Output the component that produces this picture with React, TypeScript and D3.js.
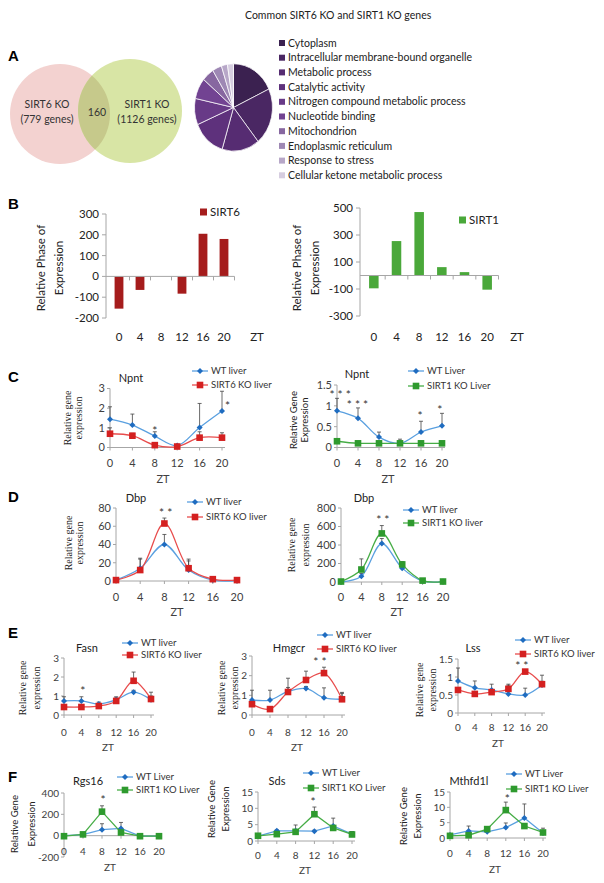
import React from 'react';
import * as d3 from 'd3';

const SANS = 'Lato, "Open Sans", "Liberation Sans", sans-serif';
const SERIF = '"Liberation Serif", "DejaVu Serif", serif';
const TXT = '#404040';
const AXIS = '#a6a6a6';

// ---------- Panel A data ----------
const vennNames = ['SIRT6 KO', 'SIRT1 KO'];
const vennGenes = ['(779 genes)', '(1126 genes)'];
const vennShared = 160;
const goTitle = 'Common SIRT6 KO and SIRT1 KO genes';
const goTerms = [
  'Cytoplasm',
  'Intracellular membrane-bound organelle',
  'Metabolic process',
  'Catalytic activity',
  'Nitrogen compound metabolic process',
  'Nucleotide binding',
  'Mitochondrion',
  'Endoplasmic reticulum',
  'Response to stress',
  'Cellular ketone metabolic process',
];
const goShare = [65, 76, 56, 50, 35, 28, 18, 14, 9, 9];
const goColors = ['#3b2150', '#4a2763', '#562c72', '#5e317c', '#683a87', '#724392', '#8767a0', '#9e88b4', '#b7a7c8', '#d6cde0'];

// ---------- Panel B data ----------
const ztLabels = ['0', '4', '8', '12', '16', '20'];
const sirt6Phase = [-155, -65, 0, -83, 205, 180];
const sirt1Phase = [-95, 255, 470, 62, 25, -105];
const sirt6PhaseTicks = [300, 200, 100, 0, -100, -200];
const sirt1PhaseTicks = [500, 300, 100, -100, -300];

// ---------- Line chart data ----------
const ZT = [0, 4, 8, 12, 16, 20];

const npntWT6 = [1.44, 1.14, 0.58, 0.1, 1.02, 1.86];
const npntWT6Err = [0.63, 0.56, 0.22, 0.05, 1.22, 1.0];
const npntKO6 = [0.7, 0.6, 0.12, 0.05, 0.5, 0.5];
const npntKO6Err = [0.3, 0.12, 0.05, 0.05, 0.3, 0.25];

const npntWT1 = [0.88, 0.7, 0.25, 0.1, 0.37, 0.52];
const npntWT1Err = [0.3, 0.25, 0.12, 0.1, 0.26, 0.3];
const npntKO1 = [0.15, 0.1, 0.1, 0.1, 0.1, 0.1];
const npntKO1Err = [0.05, 0.03, 0.03, 0.03, 0.03, 0.03];

const dbpWT6 = [1, 14, 40, 12, 1, 0.5];
const dbpWT6Err = [1, 10, 11, 10, 2, 1];
const dbpKO6 = [1, 12, 63, 14, 2, 1];
const dbpKO6Err = [1, 13, 6, 10, 2, 1];

const dbpWT1 = [0, 62, 415, 150, 10, 5];
const dbpWT1Err = [5, 30, 55, 40, 10, 5];
const dbpKO1 = [5, 135, 525, 190, 15, 5];
const dbpKO1Err = [5, 115, 85, 30, 10, 5];

const fasnWT = [0.74, 0.74, 0.58, 0.8, 1.2, 0.8];
const fasnWTErr = [0.22, 0.22, 0.1, 0.1, 0.1, 0.2];
const fasnKO = [0.42, 0.42, 0.47, 0.74, 1.8, 0.84];
const fasnKOErr = [0.05, 0.05, 0.05, 0.22, 0.46, 0.36];

const hmgcrWT = [0.76, 0.76, 1.2, 1.35, 0.88, 0.8];
const hmgcrWTErr = [0.5, 0.5, 0.2, 0.1, 0.5, 0.35];
const hmgcrKO = [0.55, 0.3, 1.17, 1.78, 2.13, 0.8];
const hmgcrKOErr = [0.1, 0.1, 0.7, 0.45, 0.3, 0.3];

const lssWT = [0.89, 0.7, 0.64, 0.53, 0.5, 0.78];
const lssWTErr = [0.36, 0.19, 0.16, 0.27, 0.19, 0.1];
const lssKO = [0.64, 0.53, 0.58, 0.67, 1.15, 0.8];
const lssKOErr = [0.05, 0.05, 0.05, 0.1, 0.05, 0.25];

const rgs16WT = [0, 10, 56, 68, -5, -5];
const rgs16WTErr = [0, 0, 56, 56, 0, 0];
const rgs16KO = [-5, 12, 225, 30, -5, -5];
const rgs16KOErr = [0, 0, 55, 0, 0, 0];

const sdsWT = [1.5, 3.1, 3.1, 3.0, 4.6, 2.1];
const sdsWTErr = [0.2, 0.3, 1.8, 0.3, 2.4, 0.8];
const sdsKO = [1.6, 2.1, 2.8, 8.2, 4.0, 2.0];
const sdsKOErr = [0.3, 0.3, 0.5, 2.2, 0.5, 0.8];

const mthWT = [1.0, 2.3, 2.0, 3.4, 6.5, 1.6];
const mthWTErr = [0.3, 1.6, 0.4, 1.5, 4.6, 0.5];
const mthKO = [0.7, 0.9, 2.9, 9.1, 3.9, 1.8];
const mthKOErr = [0.2, 0.3, 0.7, 2.6, 0.4, 1.4];

// ---------- styles ----------
type Kind = 'wt' | 'ko6' | 'ko1';
const STY: Record<Kind, { line: string; mark: string; shape: 'diamond' | 'square' }> = {
  wt: { line: '#5aa0e0', mark: '#1f6cc0', shape: 'diamond' },
  ko6: { line: '#e84c4c', mark: '#d42020', shape: 'square' },
  ko1: { line: '#46ad46', mark: '#2e9a2e', shape: 'square' },
};

type Ser = { name: string; vals: number[]; err: number[]; kind: Kind };
type Star = { zt: number; v: number; t: string };
type LC = {
  x0: number; x1: number; yDom: [number, number]; yPix: [number, number]; ticks: number[];
  base?: number;
  title: string; tx: number; ty: number;
  lx: number; ly: [number, number];
  yl: [string, string]; ylx: [number, number]; yly: number; serif: boolean;
  fs: number; labY: number; ztX: number; ztY: number;
  smooth: boolean;
  series: Ser[];
  stars: Star[];
};

function Marker({ x, y, kind }: { x: number; y: number; kind: Kind }) {
  const s = STY[kind];
  if (s.shape === 'diamond') {
    const r = 3;
    return <path d={`M${x},${y - r}L${x + r},${y}L${x},${y + r}L${x - r},${y}Z`} fill={s.mark} />;
  }
  const h = 3.3;
  return <rect x={x - h} y={y - h} width={2 * h} height={2 * h} fill={s.mark} />;
}

function LineChart({ c }: { c: LC }) {
  const x = d3.scaleLinear().domain([0, 20]).range([c.x0, c.x1]);
  const y = d3.scaleLinear().domain(c.yDom).range(c.yPix);
  const yb = y(c.base ?? 0);
  const curve = c.smooth ? d3.curveCatmullRom.alpha(0.5) : d3.curveLinear;
  const line = d3
    .line<number>()
    .x((_, i) => x(ZT[i]))
    .y((d) => y(d))
    .curve(curve);
  return (
    <g>
      {/* y axis */}
      <line x1={c.x0} x2={c.x0} y1={y(c.yDom[1])} y2={y(c.yDom[0])} stroke={AXIS} />
      {c.ticks.map((t) => (
        <g key={'t' + t}>
          <line x1={c.x0 - 3} x2={c.x0} y1={y(t)} y2={y(t)} stroke={AXIS} />
          <text x={c.x0 - 5} y={y(t)} dy="0.35em" textAnchor="end" fontSize={c.fs} fill={TXT}>
            {String(t)}
          </text>
        </g>
      ))}
      {/* x axis */}
      <line x1={c.x0} x2={c.x1 + 3} y1={yb} y2={yb} stroke={AXIS} />
      {ZT.map((z) => (
        <g key={'x' + z}>
          <line x1={x(z)} x2={x(z)} y1={yb} y2={yb + 3} stroke={AXIS} />
          <text x={x(z)} y={c.labY} textAnchor="middle" fontSize={c.fs} fill={TXT}>
            {z}
          </text>
        </g>
      ))}
      <text x={c.ztX} y={c.ztY} textAnchor="middle" fontSize={c.fs} fill={TXT}>
        ZT
      </text>
      {/* y label */}
      {c.yl.map((t, i) => (
        <text
          key={'yl' + i}
          transform={`translate(${c.ylx[i]},${c.yly}) rotate(-90)`}
          dy="0.35em"
          textAnchor="middle"
          fontSize={c.serif ? 10 : 9.5}
          fontFamily={c.serif ? SERIF : SANS}
          fill="#222"
        >
          {t}
        </text>
      ))}
      {/* title */}
      <text x={c.tx} y={c.ty} textAnchor="middle" fontSize={11} fill="#222">
        {c.title}
      </text>
      {/* error bars */}
      {c.series.map((s, si) =>
        s.vals.map((v, i) =>
          s.err[i] > 0 ? (
            <g key={`e${si}-${i}`} stroke="#444" strokeWidth={0.8}>
              <line x1={x(ZT[i])} x2={x(ZT[i])} y1={y(v)} y2={y(v + s.err[i])} />
              <line x1={x(ZT[i]) - 2} x2={x(ZT[i]) + 2} y1={y(v + s.err[i])} y2={y(v + s.err[i])} />
            </g>
          ) : null
        )
      )}
      {/* lines + markers */}
      {c.series.map((s, si) => (
        <g key={'s' + si}>
          <path d={line(s.vals) || ''} fill="none" stroke={STY[s.kind].line} strokeWidth={1.3} />
          {s.vals.map((v, i) => (
            <Marker key={i} x={x(ZT[i])} y={y(v)} kind={s.kind} />
          ))}
        </g>
      ))}
      {/* stars */}
      {c.stars.map((s, i) => (
        <text key={'st' + i} x={x(s.zt)} y={y(s.v)} dy="0.55em" textAnchor="middle" fontSize={12} fill="#333">
          {s.t}
        </text>
      ))}
      {/* legend */}
      {c.series.map((s, i) => (
        <g key={'lg' + i}>
          <line x1={c.lx} x2={c.lx + 16} y1={c.ly[i]} y2={c.ly[i]} stroke={STY[s.kind].line} strokeWidth={1.3} />
          <Marker x={c.lx + 8} y={c.ly[i]} kind={s.kind} />
          <text x={c.lx + 19} y={c.ly[i]} dy="0.35em" fontSize={9.5} fill="#333">
            {s.name}
          </text>
        </g>
      ))}
    </g>
  );
}

type BC = {
  vals: number[]; ticks: number[]; yDom: [number, number]; yPix: [number, number];
  ax: number; bx0: number; bx1: number; color: string; name: string;
  legX: number; legY: number; ylx: [number, number]; yly: number; labY: number; ztX: number;
};

function BarChart({ c }: { c: BC }) {
  const x = d3.scaleBand().domain(ztLabels).range([c.bx0, c.bx1]).paddingInner(0.58).paddingOuter(0.29);
  const y = d3.scaleLinear().domain(c.yDom).range(c.yPix);
  const y0 = y(0);
  const step = x.step();
  return (
    <g>
      <line x1={c.ax} x2={c.ax} y1={y(c.yDom[1])} y2={y(c.yDom[0])} stroke={AXIS} />
      {c.ticks.map((t) => (
        <g key={t}>
          <line x1={c.ax - 4} x2={c.ax} y1={y(t)} y2={y(t)} stroke={AXIS} />
          <text x={c.ax - 7} y={y(t)} dy="0.35em" textAnchor="end" fontSize={11.5} fill="#222">
            {String(t)}
          </text>
        </g>
      ))}
      {ztLabels.map((l, i) => {
        const v = c.vals[i];
        return (
          <rect
            key={'b' + l}
            x={x(l)!}
            width={x.bandwidth()}
            y={Math.min(y(v), y0)}
            height={Math.abs(y(v) - y0)}
            fill={c.color}
          />
        );
      })}
      <line x1={c.ax} x2={c.bx1} y1={y0} y2={y0} stroke={AXIS} />
      {ztLabels.map((l, i) => (
        <line key={'tk' + l} x1={c.bx0 + step * 0.0 + (i + 1) * step + (x(ztLabels[0])! - c.bx0 - step * 0.29) * 0} x2={c.bx0 + (i + 1) * step} y1={y0} y2={y0 + 4} stroke={AXIS} />
      ))}
      {ztLabels.map((l) => (
        <text key={'l' + l} x={x(l)! + x.bandwidth() / 2} y={c.labY} textAnchor="middle" fontSize={11.5} fill="#222">
          {l}
        </text>
      ))}
      <text x={c.ztX} y={c.labY} textAnchor="middle" fontSize={11.5} fill="#222">
        ZT
      </text>
      <rect x={c.legX} y={c.legY - 3.5} width={7} height={7} fill={c.color} />
      <text x={c.legX + 10} y={c.legY} dy="0.35em" fontSize={11.5} fill="#222">
        {c.name}
      </text>
      {['Relative Phase of', 'Expression'].map((t, i) => (
        <text
          key={t}
          transform={`translate(${c.ylx[i]},${c.yly}) rotate(-90)`}
          dy="0.35em"
          textAnchor="middle"
          fontSize={11.5}
          fill="#222"
        >
          {t}
        </text>
      ))}
    </g>
  );
}

function PanelA() {
  const pie = d3.pie<number>().sort(null).startAngle(0).endAngle(2 * Math.PI)(goShare);
  const arc = d3.arc<d3.PieArcDatum<number>>().innerRadius(0).outerRadius(39);
  const rowY = (i: number) => 43 + i * 14.7;
  return (
    <g>
      <text x={245} y={19} fontSize={10.5} fill="#222">
        {goTitle}
      </text>
      <defs>
        <clipPath id="vennLeft">
          <circle cx={60} cy={114} r={50} />
        </clipPath>
      </defs>
      <circle cx={60} cy={114} r={50} fill="#f3d2d0" />
      <circle cx={130} cy={111} r={52} fill="#d8e5a5" />
      <circle cx={130} cy={111} r={52} fill="#c6c98b" clipPath="url(#vennLeft)" />
      <text x={47} y={108} textAnchor="middle" fontSize={10.5} fill="#333">{vennNames[0]}</text>
      <text x={47} y={123} textAnchor="middle" fontSize={10.5} fill="#333">{vennGenes[0]}</text>
      <text x={97} y={116} textAnchor="middle" fontSize={10.5} fill="#333">{vennShared}</text>
      <text x={147} y={108} textAnchor="middle" fontSize={10.5} fill="#333">{vennNames[1]}</text>
      <text x={147} y={123} textAnchor="middle" fontSize={10.5} fill="#333">{vennGenes[1]}</text>
      <g transform="translate(233.5,107.5) scale(1,1.12)">
        {pie.map((p, i) => (
          <path key={i} d={arc(p) || ''} fill={goColors[i]} stroke="#fff" strokeWidth={0.7} />
        ))}
      </g>
      {goTerms.map((t, i) => (
        <g key={t}>
          <rect x={279} y={rowY(i) - 3} width={6} height={6} fill={goColors[i]} />
          <text x={288} y={rowY(i)} dy="0.35em" fontSize={10.5} fill="#222">
            {t}
          </text>
        </g>
      ))}
    </g>
  );
}

const b1: BC = {
  vals: sirt6Phase, ticks: sirt6PhaseTicks, yDom: [-200, 300], yPix: [318, 214],
  ax: 106, bx0: 108.5, bx1: 234.5, color: '#a51c1c', name: 'SIRT6',
  legX: 200, legY: 212, ylx: [41, 59], yly: 268, labY: 341, ztX: 257,
};
const b2: BC = {
  vals: sirt1Phase, ticks: sirt1PhaseTicks, yDom: [-300, 500], yPix: [316, 208],
  ax: 360, bx0: 362.5, bx1: 498.5, color: '#4aa83a', name: 'SIRT1',
  legX: 459, legY: 220, ylx: [297, 315], yly: 268, labY: 341, ztX: 517,
};

const wt6 = (n: string, v: number[], e: number[]): Ser => ({ name: n, vals: v, err: e, kind: 'wt' });
const ko6 = (n: string, v: number[], e: number[]): Ser => ({ name: n, vals: v, err: e, kind: 'ko6' });
const ko1 = (n: string, v: number[], e: number[]): Ser => ({ name: n, vals: v, err: e, kind: 'ko1' });

const lineCharts: LC[] = [
  {
    x0: 110, x1: 222, yDom: [0, 3], yPix: [447.5, 388.5], ticks: [0, 1, 2, 3],
    title: 'Npnt', tx: 131, ty: 382, lx: 192, ly: [371, 385],
    yl: ['Relative gene', 'expression'], ylx: [67, 78], yly: 418, serif: true,
    fs: 11, labY: 467, ztX: 163, ztY: 483, smooth: true,
    series: [wt6('WT liver', npntWT6, npntWT6Err), ko6('SIRT6 KO liver', npntKO6, npntKO6Err)],
    stars: [{ zt: 8, v: 0.98, t: '*' }, { zt: 21, v: 2.23, t: '*' }],
  },
  {
    x0: 337, x1: 442, yDom: [0, 1.5], yPix: [447.5, 385], ticks: [0, 0.5, 1, 1.5],
    title: 'Npnt', tx: 357, ty: 378, lx: 408, ly: [371, 386],
    yl: ['Relative Gene', 'Expression'], ylx: [294, 305], yly: 420, serif: false,
    fs: 11, labY: 467, ztX: 388, ztY: 483, smooth: true,
    series: [wt6('WT Liver', npntWT1, npntWT1Err), ko1('SIRT1 KO Liver', npntKO1, npntKO1Err)],
    stars: [
      { zt: 0.6, v: 1.33, t: '* * *' },
      { zt: 3.9, v: 1.09, t: '* * *' },
      { zt: 15.8, v: 0.83, t: '*' },
      { zt: 19.6, v: 0.97, t: '*' },
    ],
  },
  {
    x0: 116, x1: 237, yDom: [0, 80], yPix: [581, 508], ticks: [0, 20, 40, 60, 80],
    title: 'Dbp', tx: 136, ty: 502, lx: 187, ly: [502, 517],
    yl: ['Relative  gene', 'expression'], ylx: [68, 79], yly: 543, serif: true,
    fs: 11, labY: 601, ztX: 177, ztY: 616, smooth: true,
    series: [wt6('WT liver', dbpWT6, dbpWT6Err), ko6('SIRT6 KO liver', dbpKO6, dbpKO6Err)],
    stars: [{ zt: 8.2, v: 77.8, t: '* *' }],
  },
  {
    x0: 341, x1: 443, yDom: [0, 800], yPix: [582, 508], ticks: [0, 200, 400, 600, 800],
    title: 'Dbp', tx: 364, ty: 502, lx: 403, ly: [510, 523],
    yl: ['Relative gene', 'expression'], ylx: [291, 305], yly: 545, serif: true,
    fs: 11, labY: 601, ztX: 397, ztY: 616, smooth: true,
    series: [wt6('WT liver', dbpWT1, dbpWT1Err), ko1('SIRT1 KO liver', dbpKO1, dbpKO1Err)],
    stars: [{ zt: 8.2, v: 703, t: '* *' }],
  },
  {
    x0: 64, x1: 151, yDom: [0, 3], yPix: [715, 658], ticks: [0, 1, 2, 3],
    title: 'Fasn', tx: 87, ty: 652, lx: 122, ly: [643, 655],
    yl: ['Relative gene', 'expression'], ylx: [22, 36], yly: 688, serif: true,
    fs: 10, labY: 735.5, ztX: 108, ztY: 750.5, smooth: true,
    series: [wt6('WT liver', fasnWT, fasnWTErr), ko6('SIRT6 KO liver', fasnKO, fasnKOErr)],
    stars: [{ zt: 4.3, v: 1.42, t: '*' }],
  },
  {
    x0: 252, x1: 342, yDom: [0, 3], yPix: [715, 656], ticks: [0, 1, 2, 3],
    title: 'Hmgcr', tx: 289, ty: 652, lx: 317, ly: [635, 649],
    yl: ['Relative  gene', 'expression'], ylx: [221, 234], yly: 688, serif: true,
    fs: 10, labY: 735.5, ztX: 297, ztY: 750.5, smooth: true,
    series: [wt6('WT liver', hmgcrWT, hmgcrWTErr), ko6('SIRT6 KO liver', hmgcrKO, hmgcrKOErr)],
    stars: [{ zt: 15.1, v: 2.85, t: '* *' }],
  },
  {
    x0: 458, x1: 542, yDom: [0, 1.5], yPix: [713, 659], ticks: [0, 0.5, 1, 1.5],
    title: 'Lss', tx: 473, ty: 652, lx: 515, ly: [640, 654],
    yl: ['Relative gene', 'expression'], ylx: [419, 432], yly: 690, serif: true,
    fs: 10, labY: 731, ztX: 498, ztY: 747, smooth: true,
    series: [wt6('WT liver', lssWT, lssWTErr), ko6('SIRT6 KO liver', lssKO, lssKOErr)],
    stars: [{ zt: 15.2, v: 1.39, t: '* *' }],
  },
  {
    x0: 64, x1: 159, yDom: [-200, 400], yPix: [857, 793], ticks: [-200, 0, 200, 400], base: 0,
    title: 'Rgs16', tx: 88, ty: 785, lx: 117, ly: [777, 790],
    yl: ['Relative Gene', 'Expression'], ylx: [15, 32], yly: 824, serif: false,
    fs: 10, labY: 854.5, ztX: 110, ztY: 870.5, smooth: false,
    series: [wt6('WT Liver', rgs16WT, rgs16WTErr), ko1('SIRT1 KO Liver', rgs16KO, rgs16KOErr)],
    stars: [{ zt: 8.2, v: 359, t: '*' }],
  },
  {
    x0: 258, x1: 352, yDom: [0, 15], yPix: [841, 792], ticks: [0, 5, 10, 15],
    title: 'Sds', tx: 277, ty: 785, lx: 303, ly: [773, 788],
    yl: ['Relative Gene', 'Expression'], ylx: [212, 226], yly: 809, serif: false,
    fs: 10, labY: 858.5, ztX: 305, ztY: 873.5, smooth: false,
    series: [wt6('WT Liver', sdsWT, sdsWTErr), ko1('SIRT1 KO Liver', sdsKO, sdsKOErr)],
    stars: [{ zt: 11.7, v: 12.8, t: '*' }],
  },
  {
    x0: 450, x1: 543, yDom: [0, 15], yPix: [838, 792], ticks: [0, 5, 10, 15],
    title: 'Mthfd1l', tx: 469, ty: 785, lx: 506, ly: [774, 789],
    yl: ['Relative Gene', 'Expression'], ylx: [404, 418], yly: 816, serif: false,
    fs: 10, labY: 856.5, ztX: 495, ztY: 872.5, smooth: false,
    series: [wt6('WT Liver', mthWT, mthWTErr), ko1('SIRT1 KO Liver', mthKO, mthKOErr)],
    stars: [{ zt: 12.3, v: 13.7, t: '*' }],
  },
];

const panelLetters: [string, number, number][] = [
  ['A', 8, 61],
  ['B', 8, 209],
  ['C', 8, 382],
  ['D', 8, 502],
  ['E', 8, 638],
  ['F', 8, 782],
];

export default function App() {
  return (
    <svg
      width={604}
      height={883}
      style={{ position: 'absolute', left: 0, top: 0, background: '#fff' }}
      fontFamily={SANS}
    >
      <rect width={604} height={883} fill="#fff" />
      <PanelA />
      {panelLetters.map(([l, x, y]) => (
        <text key={l} x={x} y={y} fontSize={15} fontWeight="bold" fontFamily='"Liberation Sans", Arial, sans-serif' fill="#000">
          {l}
        </text>
      ))}
      <BarChart c={b1} />
      <BarChart c={b2} />
      {lineCharts.map((c, i) => (
        <LineChart key={i} c={c} />
      ))}
    </svg>
  );
}
